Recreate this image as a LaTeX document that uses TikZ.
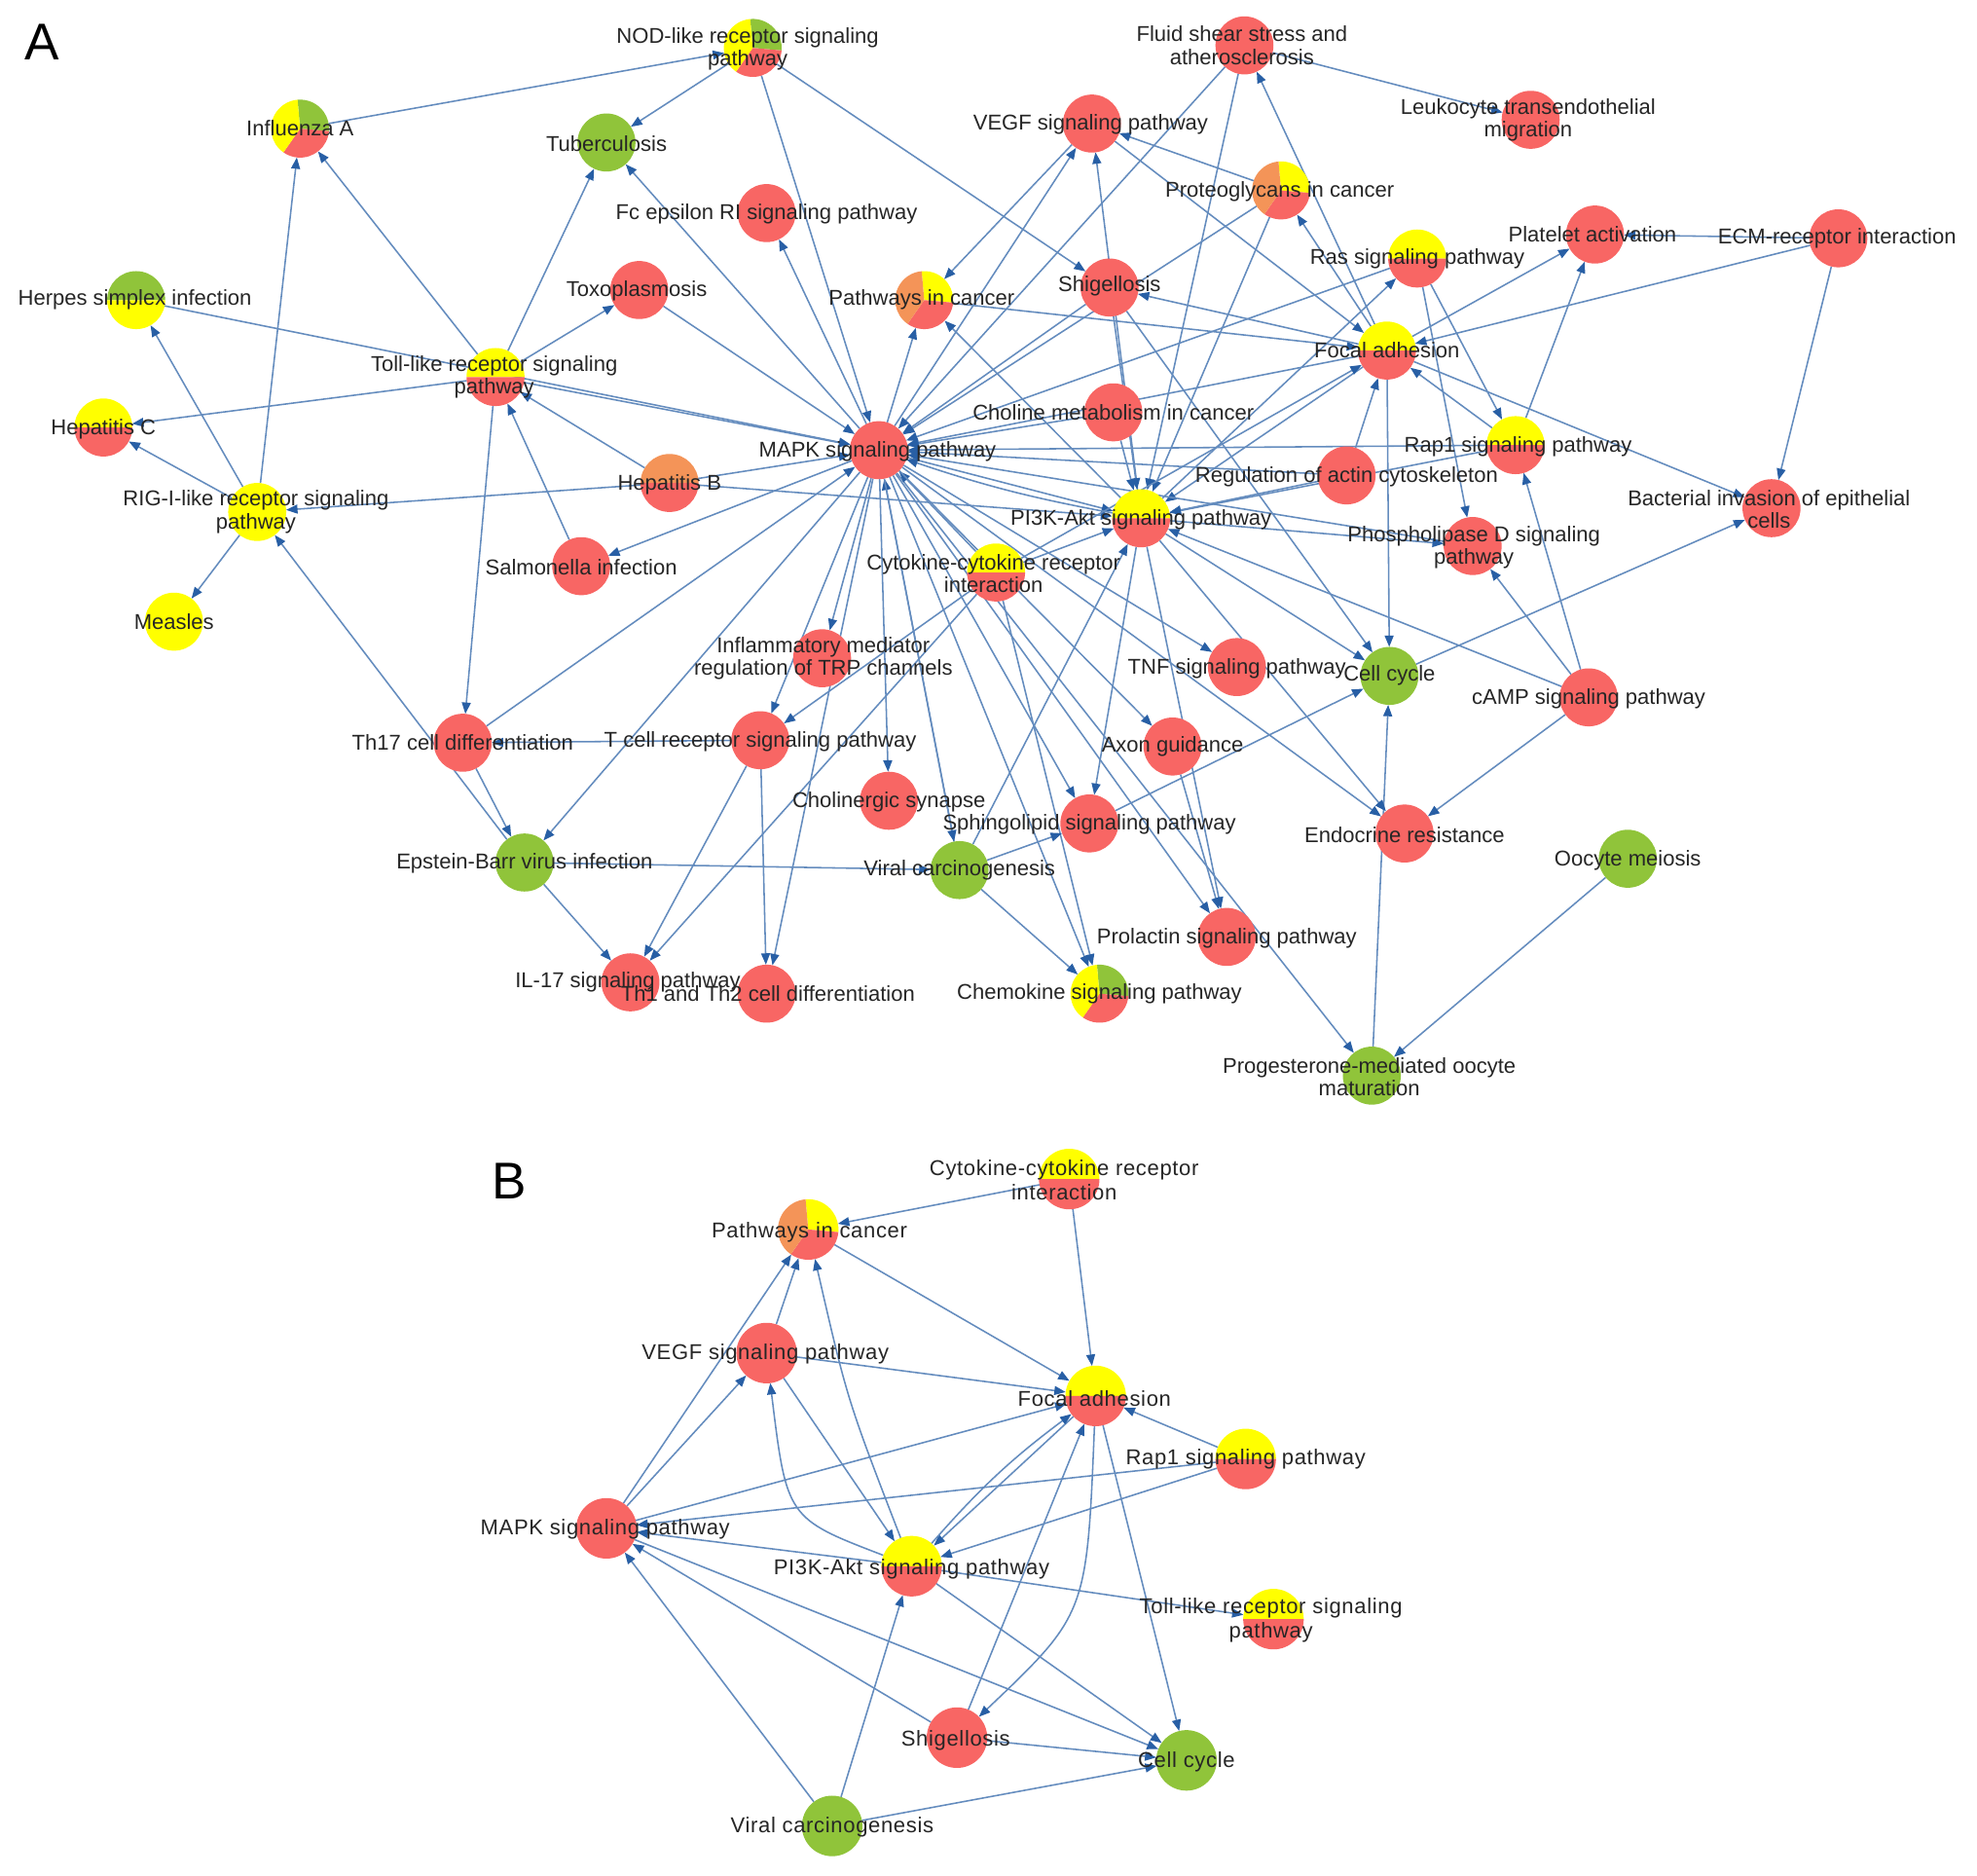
\documentclass[tikz,border=0pt]{standalone}
\usepackage{fontspec}
\setmainfont{Liberation Sans}
\newfontfamily\bfont[LetterSpace=3]{Liberation Sans}
\usetikzlibrary{arrows.meta}
\definecolor{cR}{RGB}{248,102,100}
\definecolor{cY}{RGB}{255,255,0}
\definecolor{cG}{RGB}{144,196,58}
\definecolor{cO}{RGB}{244,148,88}
\definecolor{edgecol}{RGB}{100,140,190}
\definecolor{tipcol}{RGB}{40,95,165}
\definecolor{txt}{RGB}{38,38,38}
\newcommand\pieR{23pt}
\newcommand\pfull[2]{\fill[#2] (#1.center) circle[radius=\pieR];}
\newcommand\phalf[3]{%
  \fill[#2] (#1.center) ++(0:\pieR) arc[start angle=0,end angle=180,radius=\pieR] -- cycle;
  \fill[#3] (#1.center) ++(180:\pieR) arc[start angle=180,end angle=360,radius=\pieR] -- cycle;}
\newcommand\pthree[4]{%
  \fill[#2] (#1.center) -- ++(95:\pieR) arc[start angle=95,end angle=-5,radius=\pieR] -- cycle;
  \fill[#3] (#1.center) -- ++(-5:\pieR) arc[start angle=-5,end angle=-125,radius=\pieR] -- cycle;
  \fill[#4] (#1.center) -- ++(-125:\pieR) arc[start angle=-125,end angle=-265,radius=\pieR] -- cycle;}
\tikzset{
  edge/.style={draw=edgecol, line width=1.2pt, -{Triangle[length=9pt,width=7pt,color=tipcol]}},
  nd/.style={circle, minimum size=46pt, inner sep=0pt, outer sep=0pt},
  ndB/.style={circle, minimum size=48pt, inner sep=0pt, outer sep=0pt},
  lbl/.style={font=\fontsize{17}{18}\selectfont, text=txt, align=center, inner sep=0pt},
  lblB/.style={font=\bfont\fontsize{17}{19}\selectfont, text=txt, align=center, inner sep=0pt},
  panel/.style={font=\fontsize{41}{41}\selectfont, text=black, inner sep=0pt}
}
\begin{document}
\begin{tikzpicture}[x=1pt,y=-1pt]
\useasboundingbox[fill=white] (0,0) rectangle (1568,1487);
% ---------- panel A nodes ----------
\node[nd] (nod) at (597,38) {};
\node[nd] (infl) at (238,102) {};
\node[nd] (tb) at (481,113) {};
\node[nd] (fluid) at (987,36) {};
\node[nd] (leuk) at (1214,95) {};
\node[nd] (vegf) at (866,98) {};
\node[nd] (prot) at (1016,151) {};
\node[nd] (fce) at (608,169) {};
\node[nd] (herp) at (108,238) {};
\node[nd] (toxo) at (507,230) {};
\node[nd] (pic) at (733,238) {};
\node[nd] (shig) at (880,228) {};
\node[nd] (ras) at (1124,205) {};
\node[nd] (plat) at (1265,186) {};
\node[nd] (ecm) at (1458,189) {};
\node[nd] (foc) at (1100,278) {};
\node[nd] (toll) at (393,299) {};
\node[nd] (hepc) at (82,339) {};
\node[nd] (chol) at (883,327) {};
\node[nd] (mapk) at (697,357) {};
\node[nd] (hepb) at (531,383) {};
\node[nd] (rig) at (204,406) {};
\node[nd] (rap) at (1202,353) {};
\node[nd] (act) at (1068,377) {};
\node[nd] (pi3k) at (905,411) {};
\node[nd] (bact) at (1405,403) {};
\node[nd] (pld) at (1168,433) {};
\node[nd] (salm) at (461,449) {};
\node[nd] (cyto) at (790,454) {};
\node[nd] (meas) at (138,493) {};
\node[nd] (infm) at (652,522) {};
\node[nd] (tnf) at (981,529) {};
\node[nd] (cc) at (1102,536) {};
\node[nd] (camp) at (1260,553) {};
\node[nd] (th17) at (367,589) {};
\node[nd] (tcr) at (603,587) {};
\node[nd] (axon) at (930,592) {};
\node[nd] (chln) at (705,635) {};
\node[nd] (sphi) at (864,653) {};
\node[nd] (endo) at (1114,661) {};
\node[nd] (oocy) at (1291,681) {};
\node[nd] (ebv) at (416,684) {};
\node[nd] (vir) at (761,690) {};
\node[nd] (prol) at (973,743) {};
\node[nd] (il17) at (500,779) {};
\node[nd] (th12) at (608,788) {};
\node[nd] (chem) at (872,788) {};
\node[nd] (prog) at (1088,853) {};
% ---------- panel B nodes ----------
\node[ndB] (cytoB) at (848,935) {};
\node[ndB] (picB) at (641,975) {};
\node[ndB] (vegfB) at (608,1073) {};
\node[ndB] (focB) at (869,1107) {};
\node[ndB] (rapB) at (988,1157) {};
\node[ndB] (mapkB) at (481,1212) {};
\node[ndB] (pi3kB) at (723,1242) {};
\node[ndB] (tollB) at (1010,1284) {};
\node[ndB] (shigB) at (759,1378) {};
\node[ndB] (ccB) at (941,1396) {};
\node[ndB] (virB) at (660,1448) {};
% ---------- panel A edges ----------
\foreach \a/\b in {nod/tb, infl/nod, nod/mapk, nod/shig,
  rig/infl, toll/infl, toll/tb, mapk/tb, toll/toxo, toll/hepc, rig/hepc,
  rig/herp, rig/meas, herp/mapk, hepb/rig, hepb/toll, salm/toll, toll/th17,
  ebv/rig, toll/mapk, toxo/mapk, mapk/fce, hepb/mapk, hepb/pi3k, mapk/salm,
  th17/mapk, th17/ebv, tcr/th17, mapk/ebv, ebv/il17, ebv/vir, tcr/il17,
  cyto/il17, mapk/tcr, cyto/tcr, mapk/infm, mapk/chln, mapk/th12, tcr/th12,
  mapk/pic, vegf/pic, pi3k/pic, pic/foc, mapk/vegf, pi3k/vegf, prot/vegf,
  vegf/foc, fluid/leuk, fluid/mapk, fluid/pi3k, foc/fluid, prot/mapk,
  prot/pi3k, foc/prot, shig/mapk, shig/pi3k, shig/cc, foc/shig, ras/mapk,
  pi3k/ras, ras/rap, ras/pld, foc/plat, rap/plat, ecm/plat, ecm/foc,
  ecm/bact, foc/cc, foc/bact, rap/foc, act/foc, foc/mapk, foc/pi3k,
  rap/mapk, rap/pi3k, act/mapk, act/pi3k, pld/mapk, pi3k/pld, camp/pld,
  camp/rap, camp/endo, camp/pi3k, cc/bact, prog/cc, oocy/prog, mapk/prog,
  pi3k/cc, mapk/endo, pi3k/endo, chol/mapk, chol/pi3k, mapk/pi3k,
  cyto/pi3k, cyto/mapk, cyto/chem, cyto/foc, mapk/tnf, mapk/axon,
  mapk/sphi, pi3k/sphi, mapk/prol, pi3k/prol, mapk/chem, vir/chem,
  vir/mapk, vir/pi3k, vir/sphi, sphi/cc, mapk/vir, axon/prol}
  {\draw[edge] (\a) -- (\b);}
\draw[edge] (pi3k) to[bend left=4] (mapk);
% ---------- panel B edges ----------
\foreach \a/\b in {cytoB/picB, cytoB/focB, picB/focB, vegfB/picB, mapkB/picB,
  mapkB/vegfB, vegfB/focB, vegfB/pi3kB, mapkB/focB, rapB/focB, rapB/mapkB,
  rapB/pi3kB, focB/pi3kB, shigB/focB, focB/ccB, pi3kB/mapkB, pi3kB/tollB,
  shigB/mapkB, shigB/ccB, virB/mapkB, virB/pi3kB, virB/ccB, pi3kB/ccB,
  mapkB/ccB}
  {\draw[edge] (\a) -- (\b);}
\draw[edge] (pi3kB) to[bend left=6] (focB);
\draw[edge] (pi3kB) .. controls (624,1204) .. (vegfB);
\draw[edge] (pi3kB) .. controls (672,1110) .. (picB);
\draw[edge] (focB) .. controls (862,1280) .. (shigB);
% ---------- panel A pies ----------
\pthree{nod}{cG}{cR}{cY}
\pthree{infl}{cG}{cR}{cY}
\pfull{tb}{cG}
\pfull{fluid}{cR}
\pfull{leuk}{cR}
\pfull{vegf}{cR}
\pthree{prot}{cY}{cR}{cO}
\pfull{fce}{cR}
\phalf{herp}{cG}{cY}
\pfull{toxo}{cR}
\pthree{pic}{cY}{cR}{cO}
\pfull{shig}{cR}
\phalf{ras}{cY}{cR}
\pfull{plat}{cR}
\pfull{ecm}{cR}
\phalf{foc}{cY}{cR}
\phalf{toll}{cY}{cR}
\phalf{hepc}{cY}{cR}
\pfull{chol}{cR}
\pfull{mapk}{cR}
\phalf{hepb}{cO}{cR}
\pfull{rig}{cY}
\phalf{rap}{cY}{cR}
\pfull{act}{cR}
\phalf{pi3k}{cY}{cR}
\pfull{bact}{cR}
\pfull{pld}{cR}
\pfull{salm}{cR}
\phalf{cyto}{cY}{cR}
\pfull{meas}{cY}
\pfull{infm}{cR}
\pfull{tnf}{cR}
\pfull{cc}{cG}
\pfull{camp}{cR}
\pfull{th17}{cR}
\pfull{tcr}{cR}
\pfull{axon}{cR}
\pfull{chln}{cR}
\pfull{sphi}{cR}
\pfull{endo}{cR}
\pfull{oocy}{cG}
\pfull{ebv}{cG}
\pfull{vir}{cG}
\pfull{prol}{cR}
\pfull{il17}{cR}
\pfull{th12}{cR}
\pthree{chem}{cG}{cR}{cY}
\pfull{prog}{cG}
% ---------- panel B pies ----------
\renewcommand\pieR{24pt}
\phalf{cytoB}{cY}{cR}
\pthree{picB}{cY}{cR}{cO}
\pfull{vegfB}{cR}
\phalf{focB}{cY}{cR}
\phalf{rapB}{cY}{cR}
\pfull{mapkB}{cR}
\phalf{pi3kB}{cY}{cR}
\phalf{tollB}{cY}{cR}
\pfull{shigB}{cR}
\pfull{ccB}{cG}
\pfull{virB}{cG}
% ---------- labels ----------
\node[panel] (labA) at (33,33) {A};
\node[panel] (labB) at (404,937) {B};
\node[lbl] (nodL) at (593,39) {NOD-like receptor signaling\\pathway};
\node[lbl] (inflL) at (238,102) {Influenza A};
\node[lbl] (tbL) at (481,114) {Tuberculosis};
\node[lbl] (fluidL) at (985,36) {Fluid shear stress and\\atherosclerosis};
\node[lbl] (leukL) at (1212,95) {Leukocyte transendothelial\\migration};
\node[lbl] (vegfL) at (865,99) {VEGF signaling pathway};
\node[lbl] (protL) at (1015,152) {Proteoglycans in cancer};
\node[lbl] (fceL) at (608,170) {Fc epsilon RI signaling pathway};
\node[lbl] (herpL) at (107,238) {Herpes simplex infection};
\node[lbl] (toxoL) at (505,231) {Toxoplasmosis};
\node[lbl] (picL) at (731,238) {Pathways in cancer};
\node[lbl] (shigL) at (880,227) {Shigellosis};
\node[lbl] (rasL) at (1124,205) {Ras signaling pathway};
\node[lbl] (platL) at (1263,186) {Platelet activation};
\node[lbl] (ecmL) at (1457,189) {ECM-receptor interaction};
\node[lbl] (focL) at (1100,278) {Focal adhesion};
\node[lbl] (tollL) at (392,299) {Toll-like receptor signaling\\pathway};
\node[lbl] (hepcL) at (82,340) {Hepatitis C};
\node[lbl] (cholL) at (883,327) {Choline metabolism in cancer};
\node[lbl] (mapkL) at (696,358) {MAPK signaling pathway};
\node[lbl] (hepbL) at (531,384) {Hepatitis B};
\node[lbl] (rigL) at (203,406) {RIG-I-like receptor signaling\\pathway};
\node[lbl] (rapL) at (1204,354) {Rap1 signaling pathway};
\node[lbl] (actL) at (1068,378) {Regulation of actin cytoskeleton};
\node[lbl] (pi3kL) at (905,412) {PI3K-Akt signaling pathway};
\node[lbl] (bactL) at (1403,404) {Bacterial invasion of epithelial\\cells};
\node[lbl] (pldL) at (1169,434) {Phospholipase D signaling\\pathway};
\node[lbl] (salmL) at (461,450) {Salmonella infection};
\node[lbl] (cytoL) at (788,455) {Cytokine-cytokine receptor\\interaction};
\node[lbl] (measL) at (138,493) {Measles};
\node[lbl] (infmL) at (653,522) {Inflammatory mediator\\regulation of TRP channels};
\node[lbl] (tnfL) at (981,530) {TNF signaling pathway};
\node[lbl] (ccL) at (1102,536) {Cell cycle};
\node[lbl] (campL) at (1260,554) {cAMP signaling pathway};
\node[lbl] (th17L) at (367,589) {Th17 cell differentiation};
\node[lbl] (tcrL) at (603,588) {T cell receptor signaling pathway};
\node[lbl] (axonL) at (930,592) {Axon guidance};
\node[lbl] (chlnL) at (705,636) {Cholinergic synapse};
\node[lbl] (sphiL) at (864,654) {Sphingolipid signaling pathway};
\node[lbl] (endoL) at (1114,662) {Endocrine resistance};
\node[lbl] (oocyL) at (1291,682) {Oocyte meiosis};
\node[lbl] (ebvL) at (416,685) {Epstein-Barr virus infection};
\node[lbl] (virL) at (761,690) {Viral carcinogenesis};
\node[lbl] (prolL) at (973,744) {Prolactin signaling pathway};
\node[lbl] (il17L) at (498,779) {IL-17 signaling pathway};
\node[lbl] (th12L) at (609,788) {Th1 and Th2 cell differentiation};
\node[lbl] (chemL) at (872,788) {Chemokine signaling pathway};
\node[lbl] (progL) at (1086,854) {Progesterone-mediated oocyte\\maturation};
% panel B labels
\node[lblB] (cytoBL) at (844,936) {Cytokine-cytokine receptor\\interaction};
\node[lblB] (picBL) at (642,977) {Pathways in cancer};
\node[lblB] (vegfBL) at (607,1074) {VEGF signaling pathway};
\node[lblB] (focBL) at (868,1109) {Focal adhesion};
\node[lblB] (rapBL) at (988,1157) {Rap1 signaling pathway};
\node[lblB] (mapkBL) at (480,1213) {MAPK signaling pathway};
\node[lblB] (pi3kBL) at (723,1244) {PI3K-Akt signaling pathway};
\node[lblB] (tollBL) at (1008,1285) {Toll-like receptor signaling\\pathway};
\node[lblB] (shigBL) at (758,1380) {Shigellosis};
\node[lblB] (ccBL) at (941,1397) {Cell cycle};
\node[lblB] (virBL) at (660,1449) {Viral carcinogenesis};
\end{tikzpicture}
\end{document}
